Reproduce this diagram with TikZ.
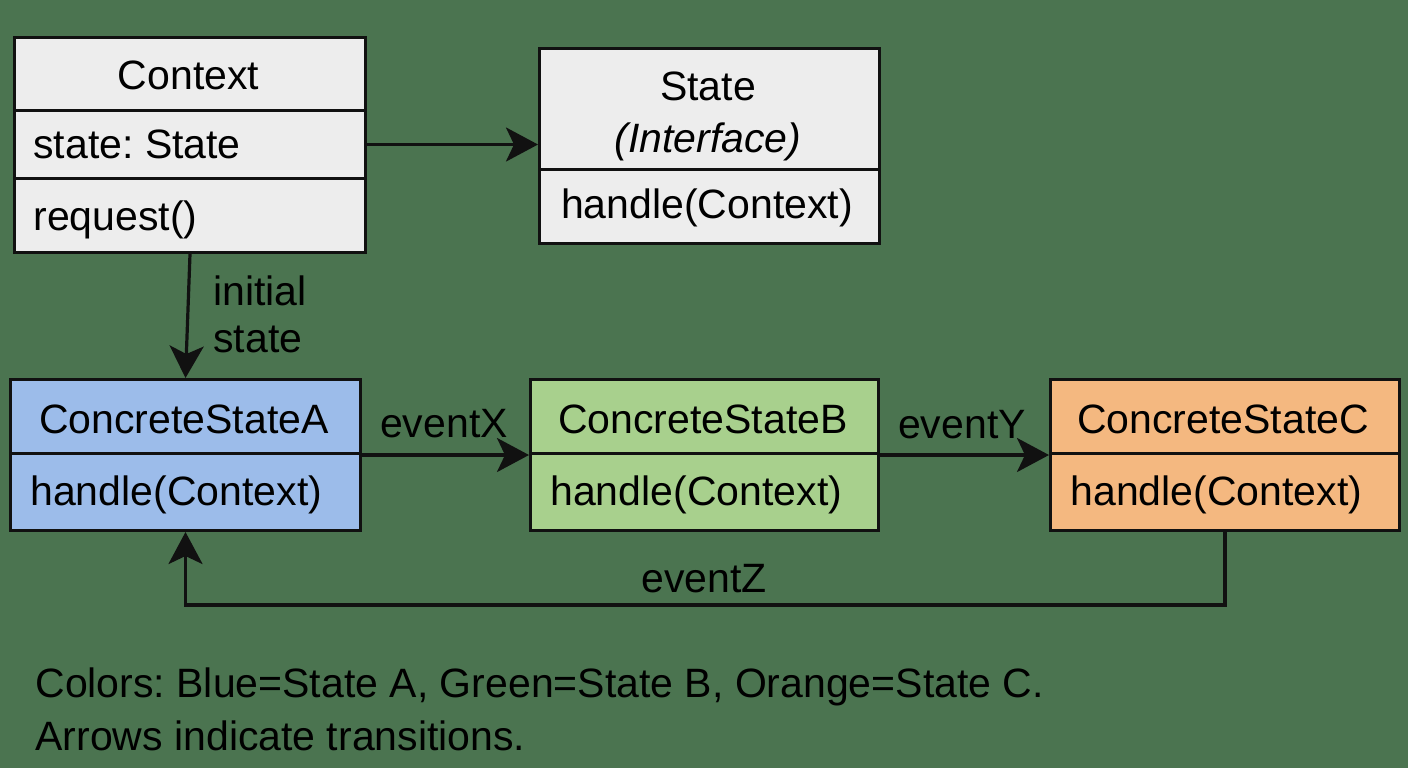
\documentclass[tikz,border=0pt]{standalone}
\usepackage{fontspec}
\setmainfont{Liberation Sans}
\usetikzlibrary{arrows.meta}
\frenchspacing
\definecolor{bgc}{HTML}{4B7450}
\definecolor{grayc}{HTML}{EDEDED}
\definecolor{bluec}{HTML}{9CBCEA}
\definecolor{greenc}{HTML}{A8D08D}
\definecolor{orangec}{HTML}{F4B880}
\definecolor{inkc}{HTML}{111111}
\tikzset{
  rowbox/.style={draw=inkc, line width=1.5pt, inner sep=0pt, anchor=north west},
  txt/.style={inner sep=0pt, text=black, font=\fontsize{20.5pt}{26pt}\selectfont\frenchspacing},
  conn/.style={draw=inkc, line width=1.6pt, -{Stealth[length=16pt,width=17pt,inset=4pt]}},
}
\begin{document}
\begin{tikzpicture}[x=0.5pt,y=-0.5pt]
\useasboundingbox (0,0) rectangle (1408,768);
\fill[bgc] (0,0) rectangle (1408,768);

% Context class
\node[rowbox, fill=grayc, minimum width=175.5pt, minimum height=36.5pt] (ctxT) at (13,36) {};
\node[rowbox, fill=grayc, minimum width=175.5pt, minimum height=34pt] (ctxA) at (13,109) {};
\node[rowbox, fill=grayc, minimum width=175.5pt, minimum height=37pt] (ctxM) at (13,177) {};
\node[txt, anchor=base] (ctxTt) at (188.5,89) {Context};
\node[txt, anchor=base west] (ctxAt) at (33,158) {state: State};
\node[txt, anchor=base west] (ctxMt) at (33,230) {request()};

% State interface
\node[rowbox, fill=grayc, minimum width=170pt, minimum height=60.5pt] (stT) at (538,47) {};
\node[rowbox, fill=grayc, minimum width=170pt, minimum height=37pt] (stM) at (538,168) {};
\node[txt, anchor=base] (stTt) at (708,100) {State};
\node[txt, anchor=base] (stTi) at (708,152) {\itshape (Interface)};
\node[txt, anchor=base] (stMt) at (707,218) {handle(Context)};

% Concrete states
\node[rowbox, fill=bluec, minimum width=175pt, minimum height=37pt] (aT) at (9,378) {};
\node[rowbox, fill=bluec, minimum width=175pt, minimum height=38.5pt] (aM) at (9,452) {};
\node[txt, anchor=base] (aTt) at (184,433) {ConcreteStateA};
\node[txt, anchor=base west] (aMt) at (30,505) {handle(Context)};

\node[rowbox, fill=greenc, minimum width=174pt, minimum height=37pt] (bT) at (529,378) {};
\node[rowbox, fill=greenc, minimum width=174pt, minimum height=38.5pt] (bM) at (529,452) {};
\node[txt, anchor=base] (bTt) at (703,433) {ConcreteStateB};
\node[txt, anchor=base west] (bMt) at (550,505) {handle(Context)};

\node[rowbox, fill=orangec, minimum width=174.5pt, minimum height=37pt] (cT) at (1049,378) {};
\node[rowbox, fill=orangec, minimum width=174.5pt, minimum height=38.5pt] (cM) at (1049,452) {};
\node[txt, anchor=base] (cTt) at (1223,433) {ConcreteStateC};
\node[txt, anchor=base west] (cMt) at (1070,505) {handle(Context)};

% Connectors
\draw[conn] (ctxA.east) -- (ctxA.east -| stT.west);
\draw[conn] (ctxM.south) -- (aT.north);
\draw[conn] (aT.south east) -- (bT.south west);
\draw[conn] (bT.south east) -- (cT.south west);
\coordinate (zc) at (704,605);
\draw[conn] (cM.south) |- (zc) -| (aM.south);

% Connector labels
\node[txt, anchor=base west] (lbl1) at (213,305) {initial};
\node[txt, anchor=base west] (lbl2) at (213,352) {state};
\node[txt, anchor=base] (lx) at (444,437) {eventX};
\node[txt, anchor=base] (ly) at (962,438) {eventY};
\node[txt, anchor=base] (lz) at (704,592) {eventZ};

% Footer
\node[txt, anchor=base west] (f1) at (35,697) {Colors: Blue=State A, Green=State B, Orange=State C.};
\node[txt, anchor=base west] (f2) at (35,750) {Arrows indicate transitions.};
\end{tikzpicture}
\end{document}
